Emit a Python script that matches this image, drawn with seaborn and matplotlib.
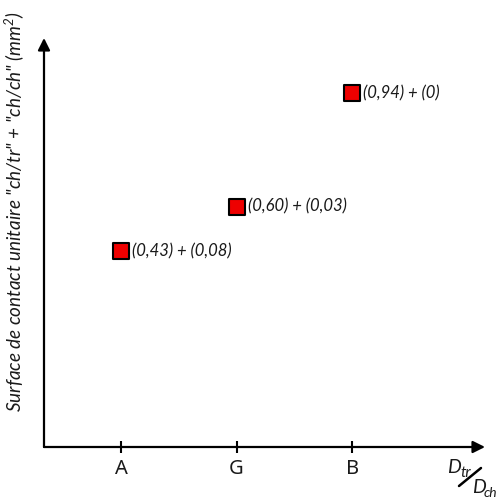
import matplotlib
matplotlib.use('Agg')
import matplotlib.pyplot as plt
import seaborn as sns
import pandas as pd
from matplotlib.lines import Line2D

categories = ['A', 'G', 'B']
ch_tr = [0.43, 0.60, 0.94]
ch_ch = [0.08, 0.03, 0.0]


def fmt(v):
    if v == 0:
        return '(0)'
    return '({:.2f})'.format(v).replace('.', ',')


df = pd.DataFrame({'pos': range(len(categories)), 'cat': categories,
                   'ch_tr': ch_tr, 'ch_ch': ch_ch})
df['total'] = df['ch_tr'] + df['ch_ch']

sns.set_style('white')
plt.rcParams['font.family'] = ['Noto Sans', 'DejaVu Sans']
IT = ['Lato', 'DejaVu Sans']
plt.rcParams['mathtext.fontset'] = 'custom'
plt.rcParams['mathtext.it'] = 'Lato:italic'
plt.rcParams['mathtext.rm'] = 'Lato:italic'

W, H = 497, 498
fig = plt.figure(figsize=(W / 100, H / 100), dpi=100)
ax = fig.add_axes([44 / W, 51 / H, 441 / W, 409 / H])

sns.scatterplot(data=df, x='pos', y='total', marker='s', s=125, color='#ee0000',
                edgecolor='black', linewidth=1.5, ax=ax, zorder=3)

for _, r in df.iterrows():
    ax.annotate(fmt(r['ch_tr']) + ' + ' + fmt(r['ch_ch']), (r['pos'], r['total']),
                xytext=(8, 0), textcoords='offset points', va='center', ha='left',
                fontsize=12, style='italic', family=IT, color='#1a1a1a')

ax.set_xlim(-0.667, 3.15)
ax.set_ylim(-0.024, 1.09)
ax.set_xticks(df['pos'])
ax.set_xticklabels(categories, fontsize=14.5, color='#1a1a1a')
ax.set_yticks([])
ax.tick_params(axis='x', bottom=True, direction='inout', length=9, width=1.5,
               color='black', pad=4)
for s in ax.spines.values():
    s.set_visible(False)

# axes drawn as arrows
arrow = dict(arrowstyle='-|>', lw=1.6, color='black', mutation_scale=18, shrinkA=0, shrinkB=0)
ax.annotate('', xy=(1, 0), xytext=(0, 0), xycoords='axes fraction', arrowprops=arrow)
ax.annotate('', xy=(0, 1), xytext=(0, 0), xycoords='axes fraction', arrowprops=arrow)

ax.set_xlabel('')
ax.set_ylabel('Surface de contact unitaire "ch/tr" + "ch/ch" (mm$^2$)',
              fontsize=13.6, style='italic', family=IT, color='#1a1a1a')
ax.yaxis.set_label_coords(-0.041, 0.575)


def ftext(x, y, s, size):
    fig.text(x / W, 1 - y / H, s, fontsize=size, style='italic', family=IT,
             ha='left', va='baseline', color='#1a1a1a')


# x-axis label D_tr / D_ch
ftext(447, 473, 'D', 14)
ftext(460, 477, 'tr', 11)
ftext(472, 493, 'D', 14)
ftext(484, 497, 'ch', 10)
fig.add_artist(Line2D([459 / W, 481 / W], [1 - 486 / H, 1 - 468 / H],
                      transform=fig.transFigure, color='black', lw=1.8))

fig.savefig('out.png', dpi=100)
